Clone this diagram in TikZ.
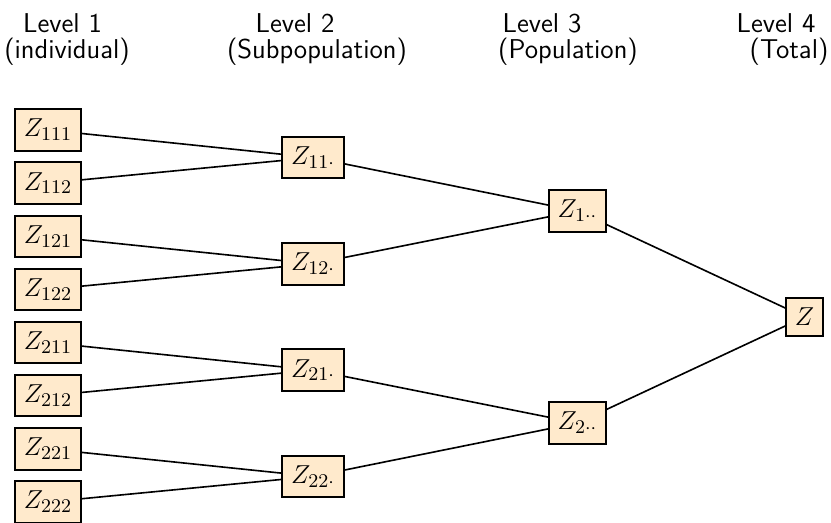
\documentclass[tikz,border=0pt]{standalone}
\usepackage{tikz}
\usepackage{xcolor}
\definecolor{boxfill}{HTML}{FFEACC}

\begin{document}
\begin{tikzpicture}[x=0.01627cm, y=-0.01627cm, line cap=round]
  \tikzset{zbox/.style={draw, line width=0.9pt, fill=boxfill, inner xsep=4pt, inner ysep=4.6pt, font=\fontsize{12.5}{15}\selectfont},
           hdr/.style={anchor=base, font=\sffamily\fontsize{12.6}{15}\selectfont}, link/.style={draw, line width=0.75pt}}
  \useasboundingbox (0,0) rectangle (831,523);
  % koppen
  \node[hdr] (h1) at (62.5,32.5) {Level 1};
  \node[hdr] (d1) at (67,58.5) {(individual)};
  \node[hdr] (h2) at (295,32.5) {Level 2};
  \node[hdr] (d2) at (317,58.5) {(Subpopulation)};
  \node[hdr] (h3) at (542,32.5) {Level 3};
  \node[hdr] (d3) at (568,58.5) {(Population)};
  \node[hdr] (h4) at (776,32.5) {Level 4};
  \node[hdr] (d4) at (789,58.5) {(Total)};
  % niveau 1
  \node[zbox] (z111) at (48,130.0) {$Z_{111}$};
  \node[zbox] (z112) at (48,183.1) {$Z_{112}$};
  \node[zbox] (z121) at (48,236.3) {$Z_{121}$};
  \node[zbox] (z122) at (48,289.4) {$Z_{122}$};
  \node[zbox] (z211) at (48,342.6) {$Z_{211}$};
  \node[zbox] (z212) at (48,395.7) {$Z_{212}$};
  \node[zbox] (z221) at (48,448.9) {$Z_{221}$};
  \node[zbox] (z222) at (48,502.0) {$Z_{222}$};
  % niveau 2
  \node[zbox] (z11) at (313,157.5) {$Z_{11\cdot}$};
  \node[zbox] (z12) at (313,263.8) {$Z_{12\cdot}$};
  \node[zbox] (z21) at (313,370.1) {$Z_{21\cdot}$};
  \node[zbox] (z22) at (313,476.4) {$Z_{22\cdot}$};
  % niveau 3 en 4
  \node[zbox] (z1) at (577.5,211) {$Z_{1\cdot\cdot}$};
  \node[zbox] (z2) at (577.5,423) {$Z_{2\cdot\cdot}$};
  \node[zbox] (z) at (804.5,317) {$Z$};
  % verbindingen
  \foreach \a/\b in {z111/z11, z112/z11, z121/z12, z122/z12, z211/z21, z212/z21, z221/z22, z222/z22,
                     z11/z1, z12/z1, z21/z2, z22/z2, z1/z, z2/z}
    \path[link] (\a) -- (\b);
\end{tikzpicture}
\end{document}
